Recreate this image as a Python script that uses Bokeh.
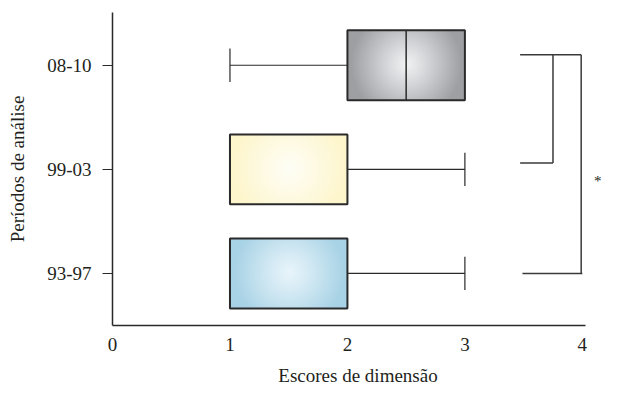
import numpy as np
from bokeh.plotting import figure
from bokeh.models import FixedTicker
from bokeh.embed import file_html
from bokeh.resources import INLINE
from bokeh.core.properties import value

# ---- data ----
periods = ["93-97", "99-03", "08-10"]
lower = [1, 1, 1]
q1 = [1, 1, 2]
median = [1, 1, 2.5]
q3 = [2, 2, 3]
upper = [3, 3, 3]

# significance brackets (x positions, y positions in category units)
bracket_x_left = [3.47, 3.47, 3.49]
bracket_top_y = 3.10
inner_bottom_y = 2.06
outer_bottom_y = 1.0
inner_x = 3.75
outer_x = 3.99
star_x = 4.13
star_y = 1.89

edge_colors = [(168, 211, 230), (253, 246, 205), (158, 159, 163)]
center_colors = [(233, 245, 251), (255, 254, 246), (241, 242, 244)]

FONT = "Liberation Serif"
TXT = "#231f20"
LINE = "#2a2a2a"

ypos = [i + 1 for i in range(len(periods))]
half_h = 0.336
cap_h = 0.16

p = figure(width=603, height=389, x_range=(0, 4.18), y_range=(0.5, 3.507),
           output_backend="svg", toolbar_location=None,
           min_border_left=112, min_border_right=0, min_border_top=12, min_border_bottom=64)
p.grid.visible = False
p.outline_line_color = None
p.background_fill_color = "white"
p.border_fill_color = "white"

# boxes with radial gradient
for i, yc in enumerate(ypos):
    w = q3[i] - q1[i]
    W = max(2, int(round(w * 117)))
    H = 70
    yy, xx = np.mgrid[0:H, 0:W]
    r = np.sqrt((xx - W / 2) ** 2 + (yy - H / 2) ** 2)
    t = np.clip(r / (0.5 * W * 0.95), 0, 1) ** 1.1
    c0 = np.array(center_colors[i], dtype=float)
    c1 = np.array(edge_colors[i], dtype=float)
    img = np.empty((H, W), dtype=np.uint32)
    view = img.view(dtype=np.uint8).reshape((H, W, 4))
    for k in range(3):
        view[:, :, k] = (c0[k] + (c1[k] - c0[k]) * t).astype(np.uint8)
    view[:, :, 3] = 255
    p.image_rgba(image=[img], x=q1[i], y=yc - half_h, dw=w, dh=2 * half_h)

# whiskers
p.segment(x0=lower, y0=ypos, x1=q1, y1=ypos, line_color=LINE, line_width=1.2)
p.segment(x0=q3, y0=ypos, x1=upper, y1=ypos, line_color=LINE, line_width=1.2)
lo_idx = [i for i in range(len(periods)) if lower[i] < q1[i]]
hi_idx = [i for i in range(len(periods)) if upper[i] > q3[i]]
p.segment(x0=[lower[i] for i in lo_idx], y0=[ypos[i] - cap_h for i in lo_idx],
          x1=[lower[i] for i in lo_idx], y1=[ypos[i] + cap_h for i in lo_idx],
          line_color=LINE, line_width=1.2)
p.segment(x0=[upper[i] for i in hi_idx], y0=[ypos[i] - cap_h for i in hi_idx],
          x1=[upper[i] for i in hi_idx], y1=[ypos[i] + cap_h for i in hi_idx],
          line_color=LINE, line_width=1.2)

# medians
p.segment(x0=median, y0=[y - half_h for y in ypos], x1=median, y1=[y + half_h for y in ypos],
          line_color=LINE, line_width=1.5)

# box outlines
p.quad(left=q1, right=q3, bottom=[y - half_h for y in ypos], top=[y + half_h for y in ypos],
       fill_alpha=0, line_color=LINE, line_width=2)

# brackets
p.segment(x0=[bracket_x_left[0], bracket_x_left[1], bracket_x_left[2], inner_x, outer_x],
          y0=[bracket_top_y, inner_bottom_y, outer_bottom_y, bracket_top_y, bracket_top_y],
          x1=[outer_x, inner_x, outer_x + 0.01, inner_x, outer_x],
          y1=[bracket_top_y, inner_bottom_y, outer_bottom_y, inner_bottom_y, outer_bottom_y],
          line_color="#3a3a3a", line_width=1.5)
p.text(x=[star_x], y=[star_y], text=["*"], text_font=value(FONT), text_font_size="15px",
       text_color=TXT, text_align="center", text_baseline="middle")

# axes
xa = p.xaxis[0]
xa.ticker = FixedTicker(ticks=[0, 1, 2, 3, 4])
xa.bounds = (0, 4.03)
xa.minor_tick_line_color = None
xa.major_tick_out = 0
xa.major_tick_in = 0
xa.major_label_standoff = 12
xa.axis_label = "Escores de dimensão"
xa.axis_label_standoff = 11

ya = p.yaxis[0]
ya.ticker = FixedTicker(ticks=ypos)
ya.major_label_overrides = {y: lab for y, lab in zip(ypos, periods)}
ya.minor_tick_line_color = None
ya.major_tick_out = 10
ya.major_tick_in = 0
ya.major_label_standoff = 11
ya.axis_label = "Períodos de análise"
ya.axis_label_standoff = 16

for ax in (xa, ya):
    ax.axis_line_color = LINE
    ax.axis_line_width = 1.5
    ax.major_tick_line_color = LINE if ax is ya else None
    ax.major_tick_line_width = 1.2
    ax.major_label_text_font = FONT
    ax.major_label_text_font_size = "19px"
    ax.major_label_text_color = TXT
    ax.axis_label_text_font = FONT
    ax.axis_label_text_font_size = "19px"
    ax.axis_label_text_font_style = "normal"
    ax.axis_label_text_color = TXT

open("out.html", "w").write(file_html(p, INLINE))
